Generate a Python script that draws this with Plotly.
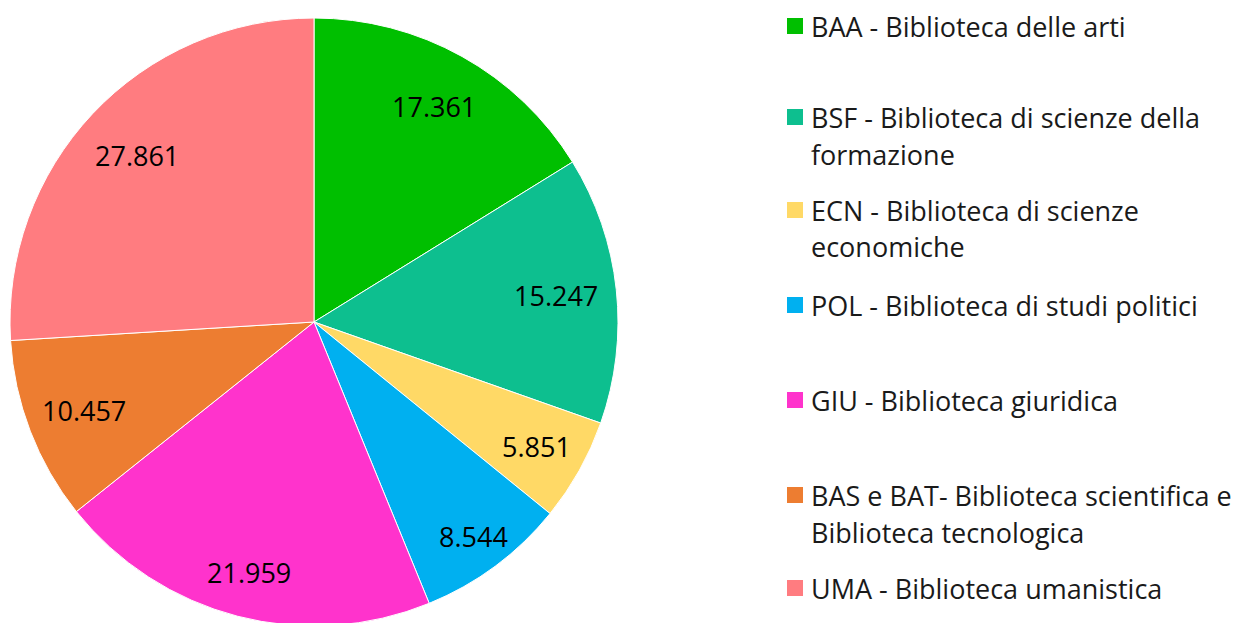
import math
import plotly.graph_objects as go

# data
labels = [
    "BAA - Biblioteca delle arti",
    "BSF - Biblioteca di scienze della<br>formazione",
    "ECN - Biblioteca di scienze<br>economiche",
    "POL - Biblioteca di studi politici",
    "GIU - Biblioteca giuridica",
    "BAS e BAT- Biblioteca scientifica e<br>Biblioteca tecnologica",
    "UMA - Biblioteca umanistica",
]
values = [17361, 15247, 5851, 8544, 21959, 10457, 27861]
colors = ["#00BF00", "#0DBF8F", "#FFD966", "#00B0F0", "#FF33CC", "#ED7D31", "#FF7C80"]

W, H = 1243, 623
OFF = 8  # page body margin in the browser
FONT = "Open Sans"

# pie geometry in screen px
cx, cy, R = 314, 322, 304
dom_x = [(cx - R - OFF) / W, (cx + R - OFF) / W]
dom_y = [1 - (cy + R - OFF) / H, 1 - (cy - R - OFF) / H]

pie = go.Pie(
    labels=[l.replace("<br>", " ") for l in labels],
    values=values,
    sort=False,
    direction="clockwise",
    rotation=0,
    marker=dict(colors=colors, line=dict(color="white", width=1)),
    textinfo="none",
    domain=dict(x=dom_x, y=dom_y),
    showlegend=False,
    hoverinfo="label+value",
)

annotations = []

# value labels, "best fit" radius per slice like Excel
label_r = [0.81, 0.80, 0.84, 0.88, 0.85, 0.81, 0.80]
total = sum(values)
cum = 0
for v, fr in zip(values, label_r):
    ang = 2 * math.pi * (cum + v / 2) / total
    cum += v
    r = fr * R
    px = cx + r * math.sin(ang) - OFF
    py = cy - r * math.cos(ang) - OFF
    annotations.append(dict(
        text=f"{v:,}".replace(",", "."), xref="paper", yref="paper",
        x=px / W, y=1 - py / H, xanchor="center", yanchor="middle",
        showarrow=False, font=dict(family=FONT, size=27, color="black"),
    ))

# legend drawn by hand so the spacing matches the original
row_y = [26, 117, 210, 305, 400, 495, 588]
line_gap = 37
shapes = []
for lab, col, ry in zip(labels, colors, row_y):
    ry = ry - OFF
    shapes.append(dict(
        type="rect", xref="paper", yref="paper",
        x0=(787 - OFF) / W, x1=(803 - OFF) / W, y0=1 - (ry + 8) / H, y1=1 - (ry - 8) / H,
        fillcolor=col, line=dict(width=0),
    ))
    for i, part in enumerate(lab.split("<br>")):
        annotations.append(dict(
            text=part, xref="paper", yref="paper",
            x=(809 - OFF) / W, y=1 - (ry + i * line_gap) / H,
            xanchor="left", yanchor="middle", showarrow=False,
            font=dict(family=FONT, size=27, color="#1a1a1a"),
        ))

fig = go.Figure(pie)
fig.update_layout(
    width=W, height=H,
    margin=dict(l=0, r=0, t=0, b=0),
    paper_bgcolor="white",
    shapes=shapes,
    annotations=annotations,
)

fig.write_html("out.html")
